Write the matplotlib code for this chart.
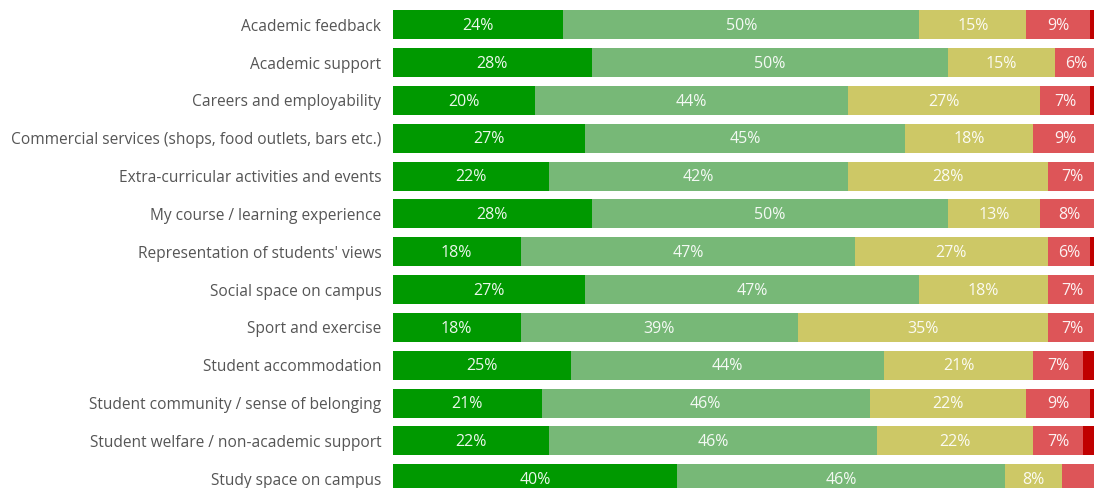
import matplotlib
matplotlib.use("Agg")
import matplotlib.pyplot as plt
import numpy as np

categories = [
    "Academic feedback",
    "Academic support",
    "Careers and employability",
    "Commercial services (shops, food outlets, bars etc.)",
    "Extra-curricular activities and events",
    "My course / learning experience",
    "Representation of students' views",
    "Social space on campus",
    "Sport and exercise",
    "Student accommodation",
    "Student community / sense of belonging",
    "Student welfare / non-academic support",
    "Study space on campus",
]

very_satisfied = [24, 28, 20, 27, 22, 28, 18, 27, 18, 25, 21, 22, 40]
satisfied = [50, 50, 44, 45, 42, 50, 47, 47, 39, 44, 46, 46, 46]
neutral = [15, 15, 27, 18, 28, 13, 27, 18, 35, 21, 22, 22, 8]
dissatisfied = [9, 6, 7, 9, 7, 8, 6, 7, 7, 7, 9, 7, 5]
very_dissatisfied = [2, 1, 2, 1, 1, 1, 1, 0, 1, 3, 2, 2, 1]

series = [very_satisfied, satisfied, neutral, dissatisfied, very_dissatisfied]
colors = ["#009900", "#77b877", "#cdc866", "#dd5558", "#c00000"]

# segments narrower than this get no value label
min_labelled = 6

plt.rcParams["font.family"] = ["Open Sans", "DejaVu Sans"]

W, H, DPI = 1094, 488, 100
fig = plt.figure(figsize=(W / DPI, H / DPI), dpi=DPI)

left_px = 392.5
px_per_pct = 7.12
ax = fig.add_axes([left_px / W, 0, 1 - left_px / W, 1])

row_step = 37.83
first_center = 24.8
ax.set_ylim((H - first_center) / row_step, -first_center / row_step)
ax.set_xlim(0, (W - left_px) / px_per_pct)

y = np.arange(len(categories))
left = np.zeros(len(categories))
for vals, col in zip(series, colors):
    vals = np.array(vals, dtype=float)
    ax.barh(y, vals, left=left, height=29 / row_step, color=col,
            edgecolor="none")
    for yi, l, v in zip(y, left, vals):
        if v >= min_labelled:
            ax.text(l + v / 2, yi + 0.03, f"{int(v)}%", ha="center",
                    va="center", color="white", alpha=0.92, fontsize=11.5)
    left += vals

ax.set_yticks(y)
ax.set_yticklabels(categories, fontsize=11.2, color="#555555")
ax.tick_params(axis="y", length=0, pad=8)
ax.set_xticks([])
for s in ax.spines.values():
    s.set_visible(False)

fig.savefig("out.png", dpi=DPI)
